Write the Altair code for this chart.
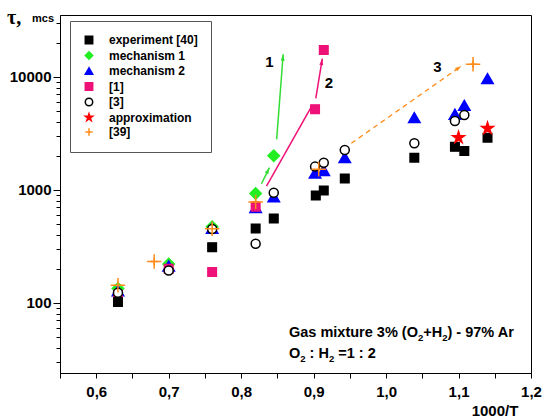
import math
import altair as alt
import pandas as pd

# ---------------- data ----------------
series_names = ["experiment [40]", "mechanism 1", "mechanism 2", "[1]", "[3]", "approximation", "[39]"]

x_exp = [0.63, 0.76, 0.82, 0.845, 0.903, 0.914, 0.943, 1.039, 1.095, 1.108, 1.14]
y_exp = [102, 310, 454, 557, 890, 986, 1258, 1920, 2400, 2197, 2885]

x_m1 = [0.63, 0.70, 0.76, 0.82, 0.845]
y_m1 = [134, 220, 470, 927, 2000]

x_m2 = [0.63, 0.70, 0.76, 0.82, 0.845, 0.902, 0.914, 0.943, 1.039, 1.095, 1.108, 1.14]
y_m2 = [128, 212, 455, 697, 866, 1400, 1480, 1920, 4335, 4640, 5570, 9600]

x_r1 = [0.63, 0.70, 0.76, 0.82, 0.902, 0.914]
y_r1 = [118, 200, 187, 707, 5140, 17200]

x_r3 = [0.63, 0.70, 0.76, 0.82, 0.845, 0.902, 0.914, 0.943, 1.039, 1.095, 1.108]
y_r3 = [123, 193, 450, 333, 940, 1600, 1734, 2240, 2570, 4050, 4570]

x_app = [1.10, 1.14]
y_app = [2885, 3484]

x_r39 = [0.63, 0.68, 0.76, 0.82, 0.907, 1.12]
y_r39 = [143, 232, 452, 780, 1514, 12850]

# arrows (data coordinates)
arrow_x1 = [0.828, 0.849, 0.835, 0.903, 0.952]
arrow_y1 = [1130, 2786, 1076, 6430, 2570]
arrow_x2 = [0.839, 0.858, 0.897, 0.912, 1.104]
arrow_y2 = [1567, 15740, 5430, 14420, 12420]
arrow_col = ["#33dd33", "#33dd33", "#ee1177", "#ee1177", "#ff8c1a"]
arrow_head = [True, True, False, True, True]
arrow_dash = [False, False, False, False, True]

# annotation numbers
note_x = [0.839, 0.921, 1.071]
note_y = [13400, 8730, 12030]
note_t = ["1", "2", "3"]

x_ticks = [0.55, 0.6, 0.65, 0.7, 0.75, 0.8, 0.85, 0.9, 0.95, 1.0, 1.05, 1.1, 1.15, 1.2]
y_ticks = ([30, 40, 50, 60, 70, 80, 90] + [100 * k for k in range(1, 10)]
           + [1000 * k for k in range(1, 10)] + [10000, 20000, 30000])

# ---------------- styling ----------------
W, H = 471, 358
XDOM = [0.55, 1.2]
YDOM = [24, 35000]
FONT = "Liberation Sans"

star = ("M0,-1L0.2245,-0.309L0.951,-0.309L0.363,0.118L0.588,0.809L0,0.382"
        "L-0.588,0.809L-0.363,0.118L-0.951,-0.309L-0.2245,-0.309Z")
plus = "M-1,0L1,0M0,-1L0,1"
shapes = ["square", "diamond", "triangle-up", "square", "circle", star, plus]
fills = ["#000000", "#22ee22", "#0000ff", "#ee1177", "#ffffff", "#ff0000", "transparent"]
strokes = ["#000000", "#22ee22", "#0000ff", "#ee1177", "#000000", "#ff0000", "#ff8c1a"]
sizes = [72, 130, 130, 72, 81, 150, 210]

draw_order = ["mechanism 1", "mechanism 2", "[1]", "experiment [40]", "[3]", "approximation", "[39]"]
series_data = {
    "experiment [40]": (x_exp, y_exp),
    "mechanism 1": (x_m1, y_m1),
    "mechanism 2": (x_m2, y_m2),
    "[1]": (x_r1, y_r1),
    "[3]": (x_r3, y_r3),
    "approximation": (x_app, y_app),
    "[39]": (x_r39, y_r39),
}
rows = []
for s in draw_order:
    xs, ys = series_data[s]
    for a, b in zip(xs, ys):
        rows.append({"x": a, "y": b, "series": s})
pts = pd.DataFrame(rows)

xscale = alt.Scale(domain=XDOM, nice=False, zero=False)
yscale = alt.Scale(type="log", domain=YDOM, nice=False)

major = "indexof([100,1000,10000], datum.value) >= 0"
x_axis = alt.Axis(values=x_ticks, title=None, grid=False,
                  labelExpr="round(datum.value*20) % 2 == 0 ? replace(format(datum.value, '.1f'), '.', ',') : ''",
                  tickSize=5, labelPadding=6, labelFontSize=15, labelFont=FONT,
                  labelFontWeight="bold", labelColor="black", tickColor="black",
                  domainColor="black", labelFlush=False)
y_axis = alt.Axis(values=y_ticks, title=None, grid=False,
                  labelExpr=major + " ? format(datum.value, 'd') : ''",
                  tickSize={"condition": {"test": major, "value": 7}, "value": 4},
                  labelPadding=2, labelFontSize=15, labelFont=FONT,
                  labelFontWeight="bold", labelColor="black", tickColor="black",
                  domainColor="black")

legend = alt.Legend(title=None, orient="none", legendX=10, legendY=6, padding=13,
                    strokeColor="#555555", fillColor="white",
                    labelFont=FONT, labelFontWeight="bold", labelFontSize=12,
                    labelColor="black", symbolStrokeWidth=1.5, symbolSize=55,
                    rowPadding=1.5, labelOffset=14)

X = lambda f: alt.X(f, type="quantitative", scale=xscale, axis=x_axis)
Y = lambda f: alt.Y(f, type="quantitative", scale=yscale, axis=y_axis)

# legend-carrying layer (small symbols, fully covered by the per-series layers)
legend_layer = alt.Chart(pts).mark_point(strokeWidth=1.5, opacity=1, size=55).encode(
    x=X("x"),
    y=Y("y"),
    shape=alt.Shape("series:N", scale=alt.Scale(domain=series_names, range=shapes), legend=legend),
    fill=alt.Fill("series:N", scale=alt.Scale(domain=series_names, range=fills), legend=legend),
    stroke=alt.Stroke("series:N", scale=alt.Scale(domain=series_names, range=strokes), legend=legend),
)

series_layers = []
for s in draw_order:
    i = series_names.index(s)
    series_layers.append(
        alt.Chart(pts).transform_filter(alt.datum.series == s).mark_point(
            shape=shapes[i], fill=fills[i], stroke=strokes[i], size=sizes[i],
            strokeWidth=1.5, opacity=1, fillOpacity=1).encode(x=X("x"), y=Y("y"))
    )

# arrows
px_x = W / (XDOM[1] - XDOM[0])
px_y = H / (math.log10(YDOM[1]) - math.log10(YDOM[0]))
arows = []
for i in range(len(arrow_x1)):
    dx = (arrow_x2[i] - arrow_x1[i]) * px_x
    dy = (math.log10(arrow_y2[i]) - math.log10(arrow_y1[i])) * px_y
    ang = math.degrees(math.atan2(dx, dy)) % 360
    arows.append({"x1": arrow_x1[i], "y1": arrow_y1[i], "x2": arrow_x2[i], "y2": arrow_y2[i],
                  "col": arrow_col[i], "head": arrow_head[i], "dash": arrow_dash[i], "ang": ang})
arr = pd.DataFrame(arows)

solid = alt.Chart(arr[~arr["dash"]]).mark_rule(strokeWidth=1.5).encode(
    x=X("x1"), y=Y("y1"), x2="x2:Q", y2="y2:Q",
    color=alt.Color("col:N", scale=None))
dashed = alt.Chart(arr[arr["dash"]]).mark_rule(strokeWidth=1.3, strokeDash=[5, 4]).encode(
    x=X("x1"), y=Y("y1"), x2="x2:Q", y2="y2:Q",
    color=alt.Color("col:N", scale=None))
heads = alt.Chart(arr[arr["head"]]).mark_point(
    shape="M0,0L0.6,2L-0.6,2Z", filled=True, size=42, opacity=1).encode(
    x=X("x2"), y=Y("y2"),
    angle=alt.Angle("ang:Q", scale=None),
    color=alt.Color("col:N", scale=None))

notes = alt.Chart(pd.DataFrame({"x": note_x, "y": note_y, "t": note_t})).mark_text(
    font=FONT, fontWeight="bold", fontSize=15, color="black").encode(
    x=X("x"), y=Y("y"), text="t:N")

# free texts
def free_text(t, x, y, size=14, font=FONT, align="left", baseline="middle"):
    return alt.Chart(pd.DataFrame({"t": [t]})).mark_text(
        font=font, fontWeight="bold", fontSize=size, color="black", align=align,
        baseline=baseline).encode(x=alt.value(x), y=alt.value(y), text="t:N")

# Arial/Liberation Sans Bold advance widths (per 1000 em)
ADV = {"G": 778, "a": 556, "s": 556, " ": 278, "m": 889, "i": 278, "x": 556, "t": 333,
       "u": 611, "r": 389, "e": 556, "3": 556, "%": 889, "(": 333, "O": 778, "+": 584,
       "H": 722, ")": 333, "-": 333, "9": 556, "7": 556, "A": 722, ":": 333, "=": 584,
       "1": 556, "2": 556}

def rich_line(pieces, x0, ybase, size=14.5, subsize=9.5, subdrop=4):
    layers = []
    x = x0
    for txt, sub in pieces:
        fs = subsize if sub else size
        lead = len(txt) - len(txt.lstrip(" "))
        x += lead * ADV[" "] * fs / 1000.0          # leading blanks are collapsed in SVG
        body = txt.lstrip(" ")
        layers.append(free_text(body, x, ybase + (subdrop if sub else 0), size=fs,
                                baseline="alphabetic"))
        x += sum(ADV.get(c, 556) for c in body) * fs / 1000.0
    return layers

line1 = rich_line([("Gas mixture 3% (O", False), ("2", True), ("+H", False), ("2", True),
                   (") - 97% Ar", False)], 229, 322)
line2 = rich_line([("O", False), ("2", True), (" : H", False), ("2", True), (" =1 : 2", False)],
                  229, 343)

xtitle = free_text("1000/T", 435, 396, size=15, align="center")
tau = free_text("\u03c4,", -53, 3, size=20, font="Liberation Serif")
mcs = free_text("mcs", -28, 4, size=11)

chart = alt.layer(solid, dashed, heads, legend_layer, *series_layers, notes,
                  *line1, *line2, xtitle, tau, mcs).properties(
    width=W, height=H,
    padding={"left": 60, "top": 15, "right": 12, "bottom": 46},
    autosize=alt.AutoSizeParams(type="none"),
    background="white",
).configure_view(stroke="black", strokeWidth=1)

chart.save("out.html", embed_options={"renderer": "svg", "actions": False})
